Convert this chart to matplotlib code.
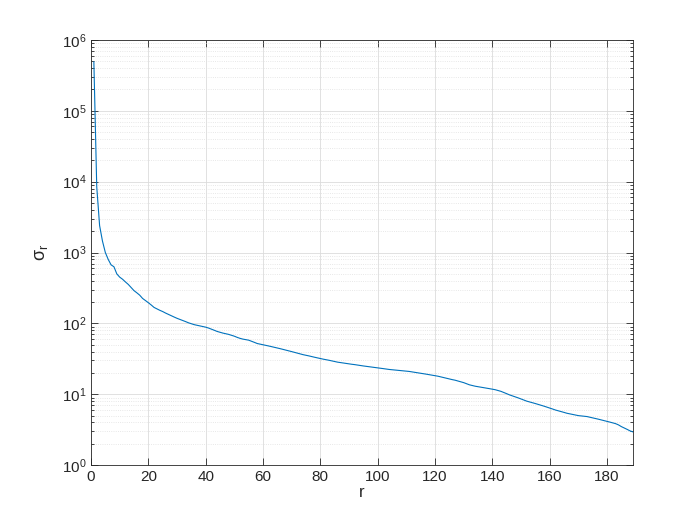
import matplotlib
matplotlib.use('Agg')
import matplotlib.pyplot as plt
import numpy as np
from matplotlib.ticker import LogLocator, NullFormatter

# ================= data: singular values sigma_r, r = 1..189 =================
sigma = [
    490000, 8500, 2400, 1450, 1000, 800, 670, 630, 500, 450,
    420, 385, 355, 320, 290, 270, 250, 225, 210, 196,
    182, 168, 160, 153, 147, 140, 134, 128, 123, 118,
    114, 110, 106, 102, 99, 96, 94, 92, 90, 88.5,
    86, 83, 80, 77, 75, 73, 71.5, 70, 68, 66,
    63.5, 61.5, 60, 59, 58, 56, 54, 52, 51, 50,
    49, 48, 47, 46, 45, 44, 43, 42, 41, 40,
    39, 38, 37, 36.2, 35.5, 34.8, 34, 33.3, 32.6, 32,
    31.3, 30.8, 30.2, 29.6, 29, 28.4, 28, 27.6, 27.2, 26.8,
    26.5, 26.2, 25.8, 25.4, 25.1, 24.8, 24.5, 24.2, 23.9, 23.6,
    23.3, 23, 22.7, 22.4, 22.2, 22, 21.8, 21.6, 21.4, 21.2,
    21, 20.7, 20.4, 20.1, 19.8, 19.5, 19.2, 18.9, 18.6, 18.3,
    18, 17.6, 17.2, 16.8, 16.5, 16.1, 15.8, 15.4, 15, 14.6,
    14.1, 13.6, 13.3, 13.0, 12.8, 12.6, 12.4, 12.2, 12.0, 11.8,
    11.6, 11.3, 11.0, 10.6, 10.2, 9.8, 9.5, 9.2, 8.9, 8.6,
    8.3, 8.0, 7.8, 7.6, 7.4, 7.2, 7.0, 6.8, 6.6, 6.4,
    6.2, 6.0, 5.85, 5.7, 5.55, 5.4, 5.3, 5.2, 5.1, 5.0,
    4.95, 4.9, 4.85, 4.75, 4.65, 4.55, 4.45, 4.35, 4.25, 4.15,
    4.05, 3.95, 3.85, 3.7, 3.5, 3.35, 3.2, 3.05, 2.95,
]
r = np.arange(1, len(sigma) + 1)
x_ticks = [0, 20, 40, 60, 80, 100, 120, 140, 160, 180]
# ===========================================================================

plt.rcParams['font.family'] = ['Liberation Sans', 'DejaVu Sans']
plt.rcParams['mathtext.fontset'] = 'custom'
plt.rcParams['mathtext.rm'] = 'Liberation Sans'
plt.rcParams['mathtext.it'] = 'Liberation Sans'

dark = '#262626'
fig = plt.figure(figsize=(7, 5.25), dpi=100)
ax = fig.add_axes([0.13, 0.114, 0.774, 0.81])

ax.semilogy(r, sigma, color='#0072BD', linewidth=0.8)

ax.set_xlim(0, len(sigma))
ax.set_ylim(1, 1e6)
ax.set_xticks(x_ticks)
ax.yaxis.set_major_locator(LogLocator(base=10, numticks=10))
ax.yaxis.set_minor_locator(LogLocator(base=10, subs=np.arange(2, 10), numticks=100))
ax.yaxis.set_minor_formatter(NullFormatter())

ax.grid(True, which='major', color='#dcdcdc', linewidth=0.6, linestyle='-')
ax.grid(True, which='minor', axis='y', color='#e0e0e0', linewidth=0.6, linestyle=':')
ax.set_axisbelow(True)

ax.tick_params(which='both', direction='in', top=True, right=True,
               colors=dark, labelsize=11, width=0.6)
ax.tick_params(which='major', length=5)
ax.tick_params(which='minor', length=2.5)
for s in ax.spines.values():
    s.set_color(dark)
    s.set_linewidth(0.6)

ax.set_xlabel('r', fontsize=12, color=dark, labelpad=1)
ax.set_ylabel(r'$\sigma_{\rm r}$', fontsize=13, color=dark, labelpad=8)

fig.savefig('out.png', dpi=100)
